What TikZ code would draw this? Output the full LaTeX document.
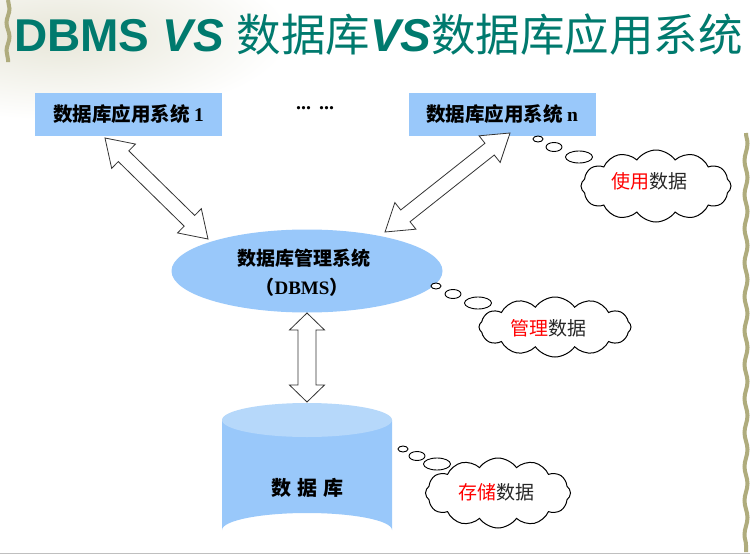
\documentclass[tikz,border=0pt]{standalone}
\usepackage{fontspec}
\setmainfont{Liberation Sans}
\newfontfamily\cjk{Noto Sans CJK SC}
\newfontfamily\serifb{Liberation Serif}
\usetikzlibrary{shapes.geometric,shapes.symbols,calc,decorations.pathmorphing}
\definecolor{titlecol}{RGB}{0,122,110}
\definecolor{boxblue}{RGB}{153,200,250}
\definecolor{toplight}{RGB}{182,216,250}
\definecolor{vine}{RGB}{175,172,125}
\newcommand\hollowarrow[5]{%
 \draw[arrowline] (#1) -- ($(#1)!#3!(#2)!#4!90:(#2)$) -- ($(#1)!#3!(#2)!#5!90:(#2)$)
   -- ($(#2)!#3!(#1)!#5!-90:(#1)$) -- ($(#2)!#3!(#1)!#4!-90:(#1)$) -- (#2)
   -- ($(#2)!#3!(#1)!#4!90:(#1)$) -- ($(#2)!#3!(#1)!#5!90:(#1)$)
   -- ($(#1)!#3!(#2)!#5!-90:(#2)$) -- ($(#1)!#3!(#2)!#4!-90:(#2)$) -- cycle;}
\tikzset{
  appbox/.style={fill=boxblue, minimum width=187, minimum height=43, inner sep=0},
  arrowline/.style={draw=black!80, line width=0.8pt, fill=white, line join=miter},
  thought/.style={cloud, cloud puffs=12, cloud puff arc=110, draw=black, line width=1pt, fill=white, inner sep=0},
  bubble/.style={ellipse, draw=black, line width=0.9pt, fill=white, inner sep=0},
  boldcjk/.style={font=\cjk\bfseries\fontsize{19.5}{19.5}\selectfont},
  cloudtxt/.style={font=\cjk\fontsize{19}{19}\selectfont, text=black!85},
}
\begin{document}
\begin{tikzpicture}[x=1pt,y=-1pt]
\useasboundingbox (0,0) rectangle (750,554);
\fill[white] (0,0) rectangle (750,554);
% background decoration
\shade[inner color=vine!30, outer color=white] (60,35) ellipse (230 and 85);
\draw[vine, line width=4pt, decorate, decoration={snake, amplitude=1.5pt, segment length=28pt}] (8,0) -- (8,62);
\draw[vine, line width=4pt, decorate, decoration={snake, amplitude=1.5pt, segment length=34pt}] (746,133) -- (746,552);
\draw[black!25, line width=1pt] (0,553) -- (750,553);
% title
\node[anchor=base west, inner sep=0, text=titlecol] (title) at (14,51)
  {\fontsize{46}{46}\selectfont\bfseries DBMS \textit{VS} {\cjk\mdseries\fontsize{44.5}{44.5}\selectfont 数据库}\textit{VS}{\cjk\mdseries\fontsize{44.5}{44.5}\selectfont 数据库应用系统}};
% application boxes
\node[appbox] (app1) at (128.5,114.5) {};
\node[boldcjk] at (app1) {数据库应用系统 {\serifb\bfseries 1}};
\node[appbox] (appn) at (502,114.5) {};
\node[boldcjk] at (appn) {数据库应用系统 {\serifb\bfseries n}};
\node[font=\serifb\bfseries\fontsize{20}{20}\selectfont] (dots) at (315,108) {...\hspace{8pt}...};
% DBMS ellipse
\node[ellipse, fill=boxblue, minimum width=271, minimum height=83, inner sep=0] (dbms) at (307,271) {};
\node[font=\cjk\bfseries\fontsize{19}{19}\selectfont] (dbmsA) at (304,258) {数据库管理系统};
\node[font=\serifb\bfseries\fontsize{19}{19}\selectfont] (dbmsB) at (302,287) {{\cjk （}DBMS{\cjk ）}};
% database cylinder
\fill[boxblue] (222,420) -- (222,530) arc[start angle=180, end angle=360, x radius=85, y radius=17] -- (392,420) -- cycle;
\fill[toplight] (307,420) ellipse (85 and 17);
\node[minimum width=170, minimum height=144, inner sep=0] (db) at (307,475) {};
\node[font=\cjk\bfseries\fontsize{20}{20}\selectfont] (dbtxt) at (307,488) {数\hspace{6pt}据\hspace{6pt}库};
% arrow end points
\coordinate (a1s) at (105,138);
\coordinate (a1e) at (208,239);
\coordinate (ans) at (510,133);
\coordinate (ane) at (385,232);
\coordinate (avs) at (307,313);
\coordinate (ave) at (307,402);
\hollowarrow{a1s}{a1e}{26pt}{17pt}{7.5pt}
\hollowarrow{ans}{ane}{26pt}{17pt}{7.5pt}
\hollowarrow{avs}{ave}{17pt}{17.5pt}{9pt}
% clouds
\node[thought, minimum width=150, minimum height=72] (c1) at (656,186) {};
\node[cloudtxt] (c1t) at (649,181) {\textcolor{red}{使用}数据};
\node[bubble, minimum width=10, minimum height=6] (b11) at (538,139) {};
\node[bubble, minimum width=16, minimum height=9] (b12) at (554,147) {};
\node[bubble, minimum width=27, minimum height=12] (b13) at (579,157) {};
\node[thought, minimum width=152, minimum height=60] (c2) at (555,327) {};
\node[cloudtxt] (c2t) at (548,328) {\textcolor{red}{管理}数据};
\node[bubble, minimum width=10, minimum height=6] (b21) at (436,286) {};
\node[bubble, minimum width=16, minimum height=9] (b22) at (453,294) {};
\node[bubble, minimum width=27, minimum height=12] (b23) at (478,303) {};
\node[thought, minimum width=145, minimum height=70] (c3) at (498,493) {};
\node[cloudtxt] (c3t) at (496,492) {\textcolor{red}{存储}数据};
\node[bubble, minimum width=10, minimum height=6] (b31) at (403,449) {};
\node[bubble, minimum width=16, minimum height=9] (b32) at (417,456) {};
\node[bubble, minimum width=27, minimum height=12] (b33) at (437,464) {};
\end{tikzpicture}
\end{document}
